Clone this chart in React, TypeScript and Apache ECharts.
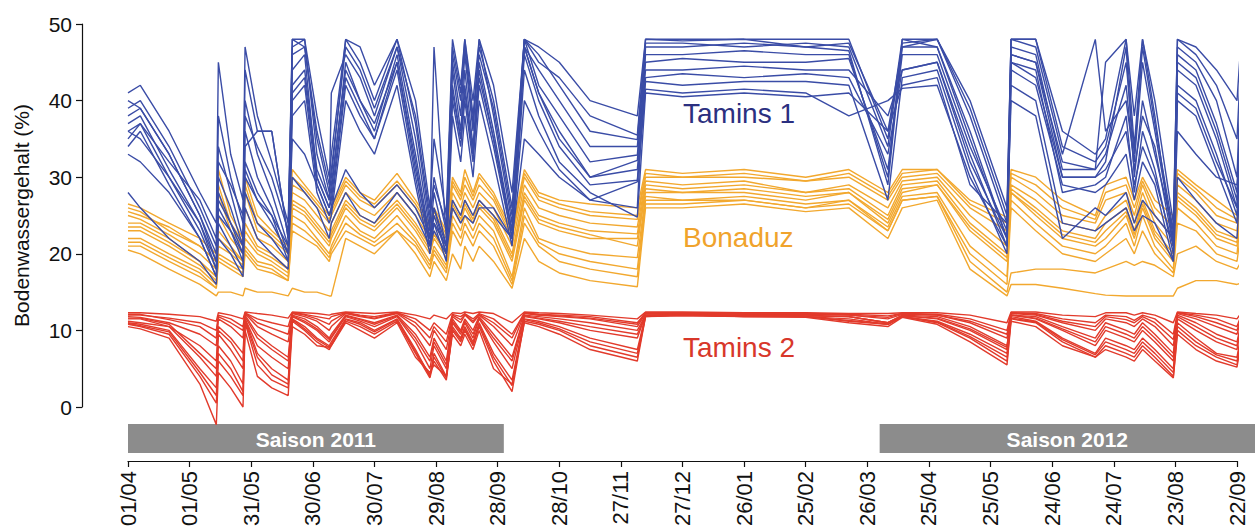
import React, { useEffect, useRef } from "react";
import * as echarts from "echarts";

// Day offsets from 01/04/2011 at which the curves were read
const DAYS = [
  0, 6, 20, 35, 43,
  44, 50, 56, 57, 63,
  70, 78, 80, 86, 92,
  98, 99, 106, 113, 120,
  131, 140, 147, 149, 155,
  158, 162, 164, 168, 171,
  178, 187, 193, 200, 210,
  225, 248, 252, 270, 300,
  330, 351, 370, 377, 394,
  410, 428, 430, 442, 455,
  471, 476, 486, 490, 494,
  500, 509, 511, 520, 530,
  540, 542, 547,
];

const TICK_LABELS = [
  "01/04", "01/05", "31/05", "30/06", "30/07", "29/08", "28/09", "28/10", "27/11", "27/12",
  "26/01", "25/02", "26/03", "25/04", "25/05", "24/06", "24/07", "23/08", "22/09",
];

// Tamins 1 (blue)
const T1_A = [41,42,36,28,24, 45,33,27,47,38, 32,24,48,48,38, 30,33,48,47,42, 48,40,26,35,25, 48,42,48,40,48, 42,28,48,47,45, 40,38,48,48,48, 48,48,35,48,48, 40,26,48,48,36, 33,35,48,38,48, 40,24,48,47,44, 40,48,48];
const T1_B = [39,40,34,26,21, 38,30,24,44,36, 36,22,48,47,35, 28,30,48,45,40, 48,37,24,30,23, 47,41,48,38,47, 40,26,48,46,42, 36,34.9,47.5,47.5,47, 47.5,47,34,47.5,48, 38,24,48,47,33, 48,36,40,32,45, 36,22,47,45,40, 30,45,46];
const T1_C = [38,39,33,25,20, 34,28,22,40,33, 28,21,47,48,33, 27,41,46,43,38, 47,35,23,47,22, 45,38,46,36,48, 38,24,47,44,40, 34,34,46,46,46.5, 46,46,30,48,47, 36,22,47,46,31, 31,45,48,34,48, 38,21,46,44,37, 28,42,42];
const T1_D = [37,38,31,24,19, 30,26,21,36,30, 26,20,44,46,30, 26,28,45,40,36, 46,33,22,28,21, 44,36,44,34,45, 36,23,48,42,38, 32,32.9,45,45.5,45, 45,45.5,31,46,46, 34,23,46,45,30, 30,32,47,30,40, 33,23,44,42,35, 26,40,40];
const T1_E = [35,37,30,23,18, 28,24,20,34,36, 36,22,42,44,31, 27,29,44,40,37, 45,32,21,26,20, 42,35,42,33,44, 35,22,47,41,36, 30,32.2,44,44,44.5, 44,44,38,44,45, 33,21,45,44,28, 29,30,38,28,36, 31,20,42,40,33, 25,38,36];
const T1_F = [34,36,29,22,17, 26,23,19,32,28, 25,19,40,42,29, 25,26,42,38,35, 44,30,21,25,20, 40,34,40,32,42, 34,22,46,40,34, 29,29.6,42.5,42,42.5, 42.5,42,27,43,44, 31,20,44,42,29, 28,29,33,27,32, 29,19,40,38,31, 24,36,35];
const T1_G = [33,32,28,22,17, 24,21,18,28,24, 22,19,30,28,26, 22,24,28,25,24, 28,25,21,23,20, 26,24,25,24,26, 26,22,35,33,30, 27,29.4,41.5,41,41.5, 41,38,40,41.6,42, 30,21,42,40,24, 23,24,26,23,25, 24,19,30,27,24, 22,32,30];
const T1_H = [28,26,22,19,16, 22,20,17,26,22, 20,18,38,40,28, 24,25,40,36,33, 42,29,20,24,19, 38,32,38,30,40, 32,21,44,38,32, 28,24.8,41,40.5,41, 40.5,41,36,42,43, 29,24,40,38,22, 26,25,28,24,27, 25,22,36,33,30, 29,35,33];
const T1_I = [36,37,32,27,22, 32,29,25,38,34, 30,23,46,47,36, 29,31,47,44,39, 47,38,25,29,24, 46,40,47,37,46, 39,25,48,45,43, 38,35.5,48,47.8,48, 47,47.5,36,47,48, 39,25,48,48,34, 32,34,45,33,47, 37,23,48,46,42, 35,46,47];
const T1_J = [36,35,30,24,18, 27,24,21,31,27, 24,20,41,43,30, 26,27,43,39,35, 45,31,22,26,21, 41,35,41,33,43, 35,23,47,41,35, 30,31,43,43.5,43, 43.5,43,33,44,45, 32,22,45,43,30, 30,31,36,29,34, 30,21,41,39,32, 26,37,38];
const T1_K = [40,39,33,25,19, 25,23,20,30,27, 25,21,35,33,29, 25,26,31,28,26, 29,26,22,24,21, 27,25,27,25,27, 25,22,40,36,31, 27,26,47,47,47.5, 47,46.5,29,47,47, 35,22,46,45,32, 31,33,42,31,38, 34,21,45,43,36, 27,41,44];

// Bonaduz (orange)
const BO_A = [26.5,26,24,22,20, 31,25,22,30,25, 23,21,31,29,27, 25,26,30,28,27, 30.5,27,24,26,23, 30,28,31,28,30.5, 28,23,31,28,27, 26.5,26,31,30.5,31, 30,31,28,31,31, 27,24.8,31,30,27, 25,29,30,27,30, 27,25,31,29,27, 25,31,30];
const BO_B = [25.5,25,23.5,21,19, 28,23,21,28,23, 22,20,29,28,26, 24,25,29,27,26, 29,26,23,25,22, 29,27,29,27,29, 27,22,30,27,26, 25,24.5,30,30,30, 29.5,30,27,30,30.5, 26,23,30,28,25, 24,27,28,25,29, 25,22,30,28,25, 24,29,28];
const BO_C = [25,24.5,22.5,20,18, 25,22,20,26,22, 21,19,28,27,25, 23,24,28,26,25, 28,25,22,24,21, 28,26,28,26,28, 26,21,29,26,25, 24,23.5,29.5,29,29.5, 28,29,26,29.5,30, 25,21,29,27,24, 23,25,27,24,28, 24,21,29,27,24, 23,28,27];
const BO_D = [24,24,22,19,17, 23,21,19,24,21, 20,18,27,26,24, 22,23,27,25,24, 27,24,21,23,20, 27,25,27,25,27, 25,20,28,25,24, 23,22.6,29,28.5,29, 28,28.5,25,29,29.5, 24,20,28.5,26,23, 22,24,26,23,27, 23,20,28,26,23, 22,27,26];
const BO_E = [23,23,21,18.5,16.5, 21,20,18.5,22,20, 19,17.5,26,25,23, 21,22,26,24,23, 26,23,20,22,19.5, 26,24,26,24,26, 24,19,27,24,23, 22,22,28,28,28, 27,28,24,28,29, 23,19,28,25,22, 21,22,25,22,26, 22,19,27,25,22, 21,26,25];
const BO_F = [22,22,20,18,16, 20,19,18,21,19, 18.5,17,25,24,22, 20,21,25,23,22, 25,22,19,21,18.5, 25,23,25,23,25, 23,17,26,22,21, 20,19.5,27.5,27,27.5, 26.5,27,23.5,27.5,28, 21,17,27,24,21, 20,21,24,21,25, 21,18,26,24,21, 20,25,23];
const BO_G = [21,21,19,17,15.5, 19,18,17,20,18, 17.5,16.5,23,22,21, 19,20,23,22,21, 23,21,18,20,17.5, 23,21,23,21,23, 21,16,24,21,19, 18,17,26.5,26.5,27, 26,26.5,23,27,27.5, 19,15,17.5,18,18, 17.5,18,19,18.5,19, 18.5,17,20,21,19, 18,19,19];
const BO_H = [20.5,20,18,16,14.5, 15,15,14.5,15.5,15, 15,14.5,15.5,15,15, 14.5,14.5,22,21,20, 23,20,17,19,16.5, 20,18,21,19,21, 19,15.5,22,19,17.5, 16.5,15.7,26,26,26.5, 25.5,26,22,26,27, 18,14.5,16,16,15.5, 14.8,14.6,14.5,14.5,14.5, 14.5,14.5,15.5,16.5,16.5, 16,16.2,16.2];
const BO_I = [26,25.5,23,21,19, 29,24,21.5,29,24, 22.5,20.5,30,28.5,26.5, 24.5,25.5,29.5,27.5,26.5, 29.5,26.5,23.5,25.5,22.5, 29.5,27.5,30,27.5,30, 27.5,22.5,30.5,27.5,26.5, 25.5,25,30.5,30,30.5, 29.5,30.5,27.5,30.5,31, 26.5,24,30.5,29,26, 24.5,28,29,26,29.5, 26,23.5,30.5,28.5,26, 24.5,30,29];
const BO_J = [23.5,23.5,21.5,19,17, 22,20.5,19,23,20.5, 19.5,18,26.5,25.5,23.5, 21.5,22.5,26.5,24.5,23.5, 26.5,23.5,20.5,22.5,20, 26.5,24.5,26.5,24.5,26.5, 24.5,19.5,27.5,24.5,23.5, 22.5,21,28.5,28,28.5, 27.5,28,24.5,28.5,29, 23.5,19.5,28,25.5,22.5, 21.5,23,25.5,22.5,26.5, 22.5,19.5,27.5,25.5,22.5, 21.5,26.5,25.5];
const BO_K = [21.5,21.5,19.5,17.5,15.5, 19.5,18.5,17.5,20.5,18.5, 18,16.5,24,23,21.5, 19.5,20.5,24,22.5,21.5, 24,21.5,18.5,20.5,18, 24,22,24,22,24, 22,16.5,25,21.5,20, 19,18,27,27,27, 26,27,23,27,27.5, 20,16,26,23,20, 19,20,22,20,23, 20,17.5,24,23,20, 19,23,21.5];

// Tamins 2 (red)
const T2_A = [12.3,12.3,12.1,11.8,11.2, 12.3,12,11.5,12.4,12.2, 12,11.6,12.4,12.3,12.2, 12,12.1,12.4,12.3,12.2, 12.4,12,11.5,12,11.5, 12.3,12.2,12.4,12.2,12.4, 12.2,11,12.4,12.3,12.2, 12,11.5,12.4,12.4,12.3, 12.3,12.2,12.2,12.3,12.3, 12,11,12.4,12.4,12, 11.8,12.3,12.3,12,12.3, 12,11,12.4,12.2,12, 11.5,12.3,12.3];
const T2_B = [12,12,11.6,11,10, 12,11.5,10.5,12.3,11.5, 11,10.5,12.3,12.1,11.8, 11.5,11.8,12.3,12,11.8, 12.3,11.5,10,11,9.5, 12.1,11.8,12.2,11.5,12.2, 11.5,9.5,12.3,12.1,12, 11.8,11,12.3,12.3,12.2, 12.2,12.1,11.9,12.2,12.1, 11.5,10,12.3,12.2,11.5, 11,12,11.8,11.3,12, 11.5,9.5,12.3,12,11.5, 10.5,12,12];
const T2_C = [11.8,11.7,11,9.5,8, 11.5,10.5,9,12.2,10.5, 9.5,8.5,12.2,11.8,11.2, 10,10.5,12.2,11.8,11.5, 12.2,10.5,8,10,7.5, 11.8,11,12,11,12, 10.5,8,12.2,12,11.8, 11.5,10.5,12.2,12.2,12.1, 12.1,12,11.5,12.1,12, 11,9,12.2,12,11, 10,11.5,11,10.5,11.5, 10.5,8,12.2,11.5,10.5, 9.5,11.5,11.5];
const T2_D = [11.5,11.5,10.5,8,6, 10.5,9,7,12,9.5, 8,6.5,12,11.5,10.5, 9,9.5,12,11.5,11, 12,9.5,6.5,9,6, 11.5,10,11.5,10,11.8, 9.5,6.5,12,11.8,11.5, 11,10,12,12.1,12, 12,11.8,11,12,11.8, 10.5,8,12,11.8,10.5, 9,11,10,9.5,11, 9.5,7,12,11,9.5, 8.5,11,11];
const T2_E = [11.2,11,10.5,6.5,4, 9.5,7.5,5,11.5,8, 6.5,5,11.8,11,10, 8.5,9,11.8,11.2,10.5, 11.8,8.5,5,8,5, 11,9.5,11,9,11.5, 8.5,5,11.8,11.5,11, 10,9,12,12,12, 11.9,11.8,11,11.9,11.5, 10,7.5,12,11.5,10, 8,10,9,8.5,10, 8.5,6,11.5,10,8.5, 7.5,10.5,10];
const T2_F = [11,10.8,10,5,2.5, 8,6,3,11.5,7, 5,3.5,11.5,10.5,9, 8,8.5,11.5,11,10, 11.5,7.5,4,7,4, 10.5,9,10.5,8.5,11, 7,3.5,11.5,11.2,10.5, 9,7.5,12,12,11.9, 11.8,11.5,10.8,11.8,11.2, 9.5,7,11.8,11.2,9, 7,9,8,7.5,9, 7.5,5,11,9,7, 6.5,9.5,9];
const T2_G = [10.8,10.5,9.5,4,0.5, 6,4,1.5,11,5.5, 3.5,2.5,11.2,10,8.5, 7.5,8,11.2,10.5,9.5, 11.2,7,3.8,6,3.5, 10,8.5,10,8,10.5, 6,2,11.2,10.8,10, 8,6.5,11.8,12,11.8, 11.8,11.2,10.8,11.8,11, 9,6,11.5,11,8.5, 6.5,8,7,6.5,8, 6.5,4,10,8,6.5, 5.5,9,8.5];
const T2_H = [10.5,10.2,9,3,-2.3, 4.5,2.5,0,10,4, 2.5,1.5,10.5,9.5,8, 7.8,8,11,10,9, 11,6.5,4.5,5.5,4, 9.5,8,9.5,7.5,10, 5,3,11,10.5,9.5, 7.5,6,11.8,11.9,11.8, 11.7,11,10.5,11.7,10.8, 8.5,5.5,11.2,10.5,8, 6.5,7.5,6.5,6,7.5, 6,3.8,9.5,7.5,6, 5.2,8.5,8];
const T2_I = [12.1,12.1,11.4,10.5,9, 11.8,11,10,12.3,11, 10.3,9.5,12.3,12,11.5, 10.8,11.2,12.3,11.9,11.6, 12.3,11,9,10.5,8.5, 12,11.4,12.1,11.2,12.1, 11,9,12.3,12,11.9, 11.6,10.8,12.3,12.3,12.2, 12.2,12,11.7,12.2,12, 11.2,9.5,12.3,12.1,11.2, 10.5,11.8,11.4,11,11.8, 11,8.8,12.3,11.8,11, 10,11.8,11.8];
const T2_J = [11.6,11.6,10.8,7,5, 10,8.5,6,11.8,9, 7.5,6,11.9,11.2,10.2, 8.8,9.2,11.9,11.4,10.8, 11.9,9,6,8.5,5.5, 11.2,9.8,11.2,9.5,11.6, 9,6,11.9,11.6,11.2, 10.5,9.5,12,12,12, 11.9,11.8,11,11.9,11.6, 10.2,7.8,12,11.6,10.2, 8.5,10.5,9.5,9,10.5, 9,6.5,11.8,10.5,9, 8,10.8,10.5];
const T2_K = [10.9,10.6,9.8,4.5,1.5, 7,5,2,11.2,6.5, 4.2,3,11.4,10.2,8.8, 7.8,8.2,11.4,10.8,9.8, 11.4,7.2,4.2,6.5,3.8, 10.2,8.8,10.2,8.2,10.8, 6.5,2.8,11.4,11,10.2, 8.5,7,11.9,12,11.8, 11.8,11.3,10.8,11.8,11.1, 9.2,6.5,11.6,11.1,8.8, 6.8,8.5,7.5,7,8.5, 7,4.5,10.5,8.5,6.8, 6,9.2,8.8];

const TAMINS1 = [T1_A, T1_B, T1_C, T1_D, T1_E, T1_F, T1_G, T1_H, T1_I, T1_J, T1_K];
const BONADUZ = [BO_A, BO_B, BO_C, BO_D, BO_E, BO_F, BO_G, BO_H, BO_I, BO_J, BO_K];
const TAMINS2 = [T2_A, T2_B, T2_C, T2_D, T2_E, T2_F, T2_G, T2_H, T2_I, T2_J, T2_K];

const SEASONS = [
  { label: "Saison 2011", start: 0, end: 183 },
  { label: "Saison 2012", start: 366, end: 549 },
];

const GROUP_LABELS = [
  { text: "Tamins 1", color: "#2b2f80", y: 113 },
  { text: "Bonaduz", color: "#f0a32c", y: 237 },
  { text: "Tamins 2", color: "#d8372a", y: 347 },
];

const BLUE = "#3a4ca6";
const ORANGE = "#f2a82e";
const RED = "#e23a2b";
const FONT = "'Liberation Sans', Arial, Helvetica, sans-serif";

export default function App() {
  const ref = useRef<HTMLDivElement>(null);
  useEffect(() => {
    const el = ref.current;
    if (!el) return;
    const chart = echarts.init(el, null, { renderer: "svg" });
    const mk = (lines: number[][], color: string) =>
      lines.map((vals) => ({
        type: "line",
        data: DAYS.map((d, i) => [d, vals[i]]),
        showSymbol: false,
        symbol: "none",
        lineStyle: { color, width: 1.4 },
        clip: false,
        silent: true,
      }));
    chart.setOption({
      animation: false,
      textStyle: { fontFamily: FONT },
      grid: { left: 128, right: 18, top: 24, bottom: 123 },
      xAxis: {
        type: "value",
        min: 0,
        max: 540,
        interval: 30,
        offset: 54,
        axisLine: { show: true, onZero: false, lineStyle: { color: "#111", width: 1.2 } },
        axisTick: { show: true, length: 6, lineStyle: { color: "#111", width: 1.2 } },
        splitLine: { show: false },
        axisLabel: {
          rotate: 90,
          fontSize: 22,
          color: "#111",
          margin: 10,
          fontFamily: FONT,
          formatter: (v: number) => TICK_LABELS[Math.round(v / 30)] ?? "",
        },
      },
      yAxis: {
        type: "value",
        min: 0,
        max: 50,
        interval: 10,
        offset: 46,
        axisLine: { show: true, onZero: false, lineStyle: { color: "#111", width: 1.2 } },
        axisTick: { show: true, length: 6, lineStyle: { color: "#111", width: 1.2 } },
        splitLine: { show: false },
        axisLabel: { fontSize: 21, color: "#111", margin: 10, fontFamily: FONT },
        name: "Bodenwassergehalt (%)",
        nameLocation: "middle",
        nameRotate: 90,
        nameGap: 50,
        nameTextStyle: { fontSize: 21, color: "#111", fontFamily: FONT },
      },
      series: [...mk(BONADUZ, ORANGE), ...mk(TAMINS1, BLUE), ...mk(TAMINS2, RED)],
    });

    const px = (d: number) => chart.convertToPixel({ xAxisIndex: 0 }, d) as number;
    const graphics: any[] = [];
    SEASONS.forEach((s) => {
      const x0 = px(s.start);
      const x1 = Math.min(px(s.end), 1255);
      graphics.push({
        type: "rect",
        shape: { x: x0, y: 424, width: x1 - x0, height: 29 },
        style: { fill: "#8c8c8c" },
        silent: true,
      });
      graphics.push({
        type: "text",
        x: (x0 + x1) / 2,
        y: 439,
        style: {
          text: s.label,
          fill: "#ffffff",
          font: `bold 21px ${FONT}`,
          align: "center",
          verticalAlign: "middle",
          textAlign: "center",
          textVerticalAlign: "middle",
        },
        silent: true,
      });
    });
    GROUP_LABELS.forEach((g) => {
      graphics.push({
        type: "text",
        x: 683,
        y: g.y,
        style: {
          text: g.text,
          fill: g.color,
          font: `28px ${FONT}`,
          align: "left",
          verticalAlign: "middle",
          textAlign: "left",
          textVerticalAlign: "middle",
        },
        silent: true,
        z: 100,
      });
    });
    chart.setOption({ graphic: graphics });
    return () => chart.dispose();
  }, []);
  return (
    <div
      ref={ref}
      style={{ position: "fixed", left: 0, top: 0, width: 1255, height: 530, background: "#fff" }}
    />
  );
}
